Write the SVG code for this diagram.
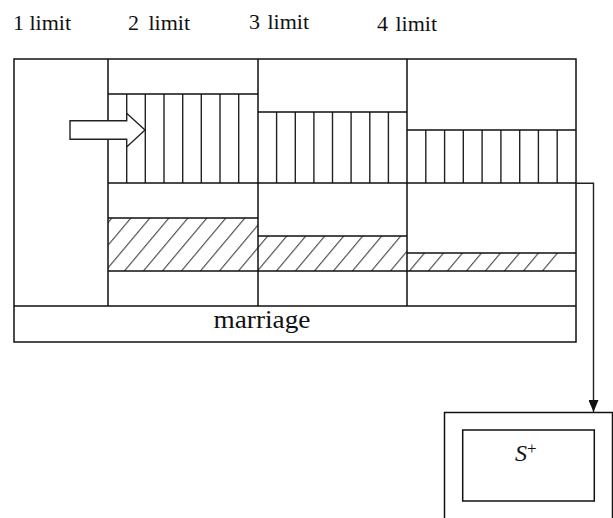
<svg xmlns="http://www.w3.org/2000/svg" width="613" height="518" viewBox="0 0 613 518" font-family="'Liberation Serif', 'Times New Roman', Tinos, serif">
<style>
.ln{stroke:#111;stroke-width:1.5;fill:none}
.vh{stroke:#222;stroke-width:1.4}
text{font-family:'Liberation Serif','Times New Roman',Tinos,serif;fill:#111}
</style>
<defs>
<pattern id="diag" patternUnits="userSpaceOnUse" width="19" height="40" patternTransform="skewX(-40)">
<line x1="9.8" y1="-1" x2="9.8" y2="41" stroke="#333" stroke-width="1.3"/>
</pattern>
<clipPath id="hclip"><rect x="108" y="200" width="450" height="80"/></clipPath>
<marker id="ah" viewBox="0 0 12 10" refX="12" refY="5" markerWidth="12" markerHeight="10" markerUnits="userSpaceOnUse" orient="auto">
<path d="M0,0 L12,5 L0,10 Z" fill="#111"/>
</marker>
</defs>
<rect width="613" height="518" fill="#fff"/>

<g id="labels">
<text x="13" y="30" font-size="22">1 limit</text>
<text x="128" y="30" font-size="22">2<tspan dx="4"> limit</tspan></text>
<text x="249" y="29" font-size="22">3<tspan dx="2"> limit</tspan></text>
<text x="377" y="31" font-size="22">4<tspan dx="2"> limit</tspan></text>
</g>

<g id="hatch-diagonal">
<path d="M108,218 H258 V236 H407 V253 H576 V271 H108 Z" fill="url(#diag)" clip-path="url(#hclip)"/>
</g>

<g id="hatch-vertical">
<path class="vh" d="M126.7,94V183M145.3,94V183M164,94V183M182.7,94V183M201.3,94V183M220,94V183M238.7,94V183
M276.6,112V183M295.3,112V183M313.9,112V183M332.5,112V183M351.1,112V183M369.8,112V183M388.4,112V183
M425.8,130V183M444.6,130V183M463.3,130V183M482.1,130V183M500.9,130V183M519.7,130V183M538.4,130V183M557.2,130V183"/>
</g>

<g id="frame">
<rect class="ln" x="14" y="59" width="562" height="283"/>
<path class="ln" d="M108,59V306M258,59V306M407,59V306"/>
</g>

<g id="col2">
<path class="ln" d="M108,94H258M108,183H258M108,218H258"/>
</g>
<g id="col3">
<path class="ln" d="M258,112H407M258,183H407M258,236H407"/>
</g>
<g id="col4">
<path class="ln" d="M407,130H576M407,183H576M407,253H576"/>
</g>
<g id="bottom-row">
<path class="ln" d="M108,271H576M14,306H576"/>
</g>

<g id="marriage">
<text x="262" y="328" text-anchor="middle" font-size="25" textLength="97" lengthAdjust="spacingAndGlyphs">marriage</text>
</g>

<g id="entry-arrow">
<polygon points="70,120.7 126.7,120.7 126.7,113.3 145,130 126.7,147 126.7,139.3 70,139.3" fill="#fff" stroke="#222" stroke-width="1.4" stroke-linejoin="miter"/>
</g>

<g id="splus">
<rect class="ln" x="444.5" y="412.5" width="168" height="120"/>
<rect class="ln" x="462.7" y="430" width="131.6" height="71"/>
<text x="515" y="461" font-size="24" font-style="italic">S<tspan dy="-7" font-style="normal" font-size="17">+</tspan></text>
</g>

<g id="connectors">
<path d="M576,183.3H593.5V412" stroke="#222" stroke-width="1.4" fill="none" marker-end="url(#ah)"/>
</g>
</svg>
